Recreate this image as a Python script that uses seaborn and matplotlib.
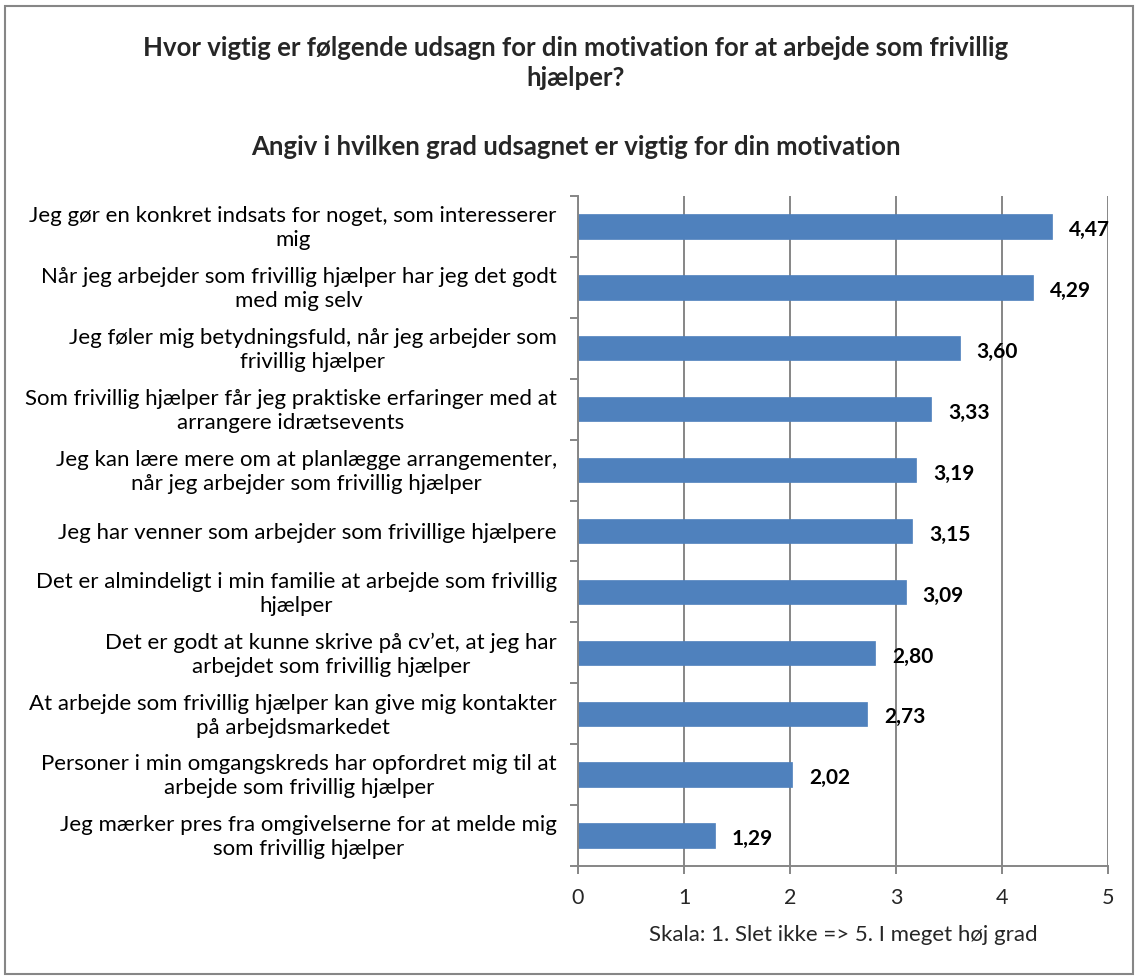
import matplotlib
matplotlib.use("Agg")
import matplotlib.pyplot as plt
import seaborn as sns
import pandas as pd
from matplotlib.patches import Rectangle

categories = [
    "Jeg gør en konkret indsats for noget, som interesserer\nmig",
    "Når jeg arbejder som frivillig hjælper har jeg det godt\nmed mig selv",
    "Jeg føler mig betydningsfuld, når jeg arbejder som\nfrivillig hjælper",
    "Som frivillig hjælper får jeg praktiske erfaringer med at\narrangere idrætsevents",
    "Jeg kan lære mere om at planlægge arrangementer,\nnår jeg arbejder som frivillig hjælper",
    "Jeg har venner som arbejder som frivillige hjælpere",
    "Det er almindeligt i min familie at arbejde som frivillig\nhjælper",
    "Det er godt at kunne skrive på cv’et, at jeg har\narbejdet som frivillig hjælper",
    "At arbejde som frivillig hjælper kan give mig kontakter\npå arbejdsmarkedet",
    "Personer i min omgangskreds har opfordret mig til at\narbejde som frivillig hjælper",
    "Jeg mærker pres fra omgivelserne for at melde mig\nsom frivillig hjælper",
]
values = [4.47, 4.29, 3.60, 3.33, 3.19, 3.15, 3.09, 2.80, 2.73, 2.02, 1.29]
xticks = [0, 1, 2, 3, 4, 5]

title1 = "Hvor vigtig er følgende udsagn for din motivation for at arbejde som frivillig\nhjælper?"
title2 = "Angiv i hvilken grad udsagnet er vigtig for din motivation"
xlabel = "Skala: 1. Slet ikke => 5. I meget høj grad"

sns.set_theme(style="white")
plt.rcParams["font.family"] = ["Lato", "DejaVu Sans"]

df = pd.DataFrame({"cat": categories, "val": values})

fig = plt.figure(figsize=(11.36, 9.76), dpi=100)
ax = fig.add_axes([578 / 1136, 1 - 866 / 976, (1108 - 578) / 1136, (866 - 196) / 976])

sns.barplot(data=df, x="val", y="cat", orient="h", color="#4F81BD",
            width=0.4, saturation=1, ax=ax, edgecolor="#4F81BD", linewidth=0.5)

ax.set_xlim(0, 5)
ax.set_ylim(len(categories) - 0.5, -0.5)
ax.set_xticks(xticks)
ax.set_xticklabels([str(t) for t in xticks], fontsize=15.5)
ax.xaxis.grid(True, color="#868686", linewidth=1.4)
ax.set_axisbelow(True)

for s in ["top", "right"]:
    ax.spines[s].set_visible(False)
for s in ["left", "bottom"]:
    ax.spines[s].set_color("#868686")
    ax.spines[s].set_linewidth(1.4)

# category boundary ticks
ax.set_yticks([i - 0.5 for i in range(len(categories) + 1)], minor=False)
ax.set_yticklabels([])
ax.tick_params(axis="y", which="major", direction="out", length=6, width=1.4, color="#868686", left=True)
ax.tick_params(axis="x", which="major", direction="out", length=6, width=1.4, color="#868686", bottom=True, pad=10)

for i, (c, v) in enumerate(zip(categories, values)):
    ax.text(-0.2, i + 0.03, c, ha="right", va="center", multialignment="center",
            fontsize=16, color="black", linespacing=1.25, clip_on=False)
    ax.text(v + 0.16, i + 0.06, f"{v:.2f}".replace(".", ","), ha="left", va="center",
            fontsize=15, fontweight="bold", color="black")

ax.set_ylabel("")
ax.set_xlabel(xlabel, fontsize=16, labelpad=12)

fig.text(576 / 1136, 1 - 63 / 976, title1, ha="center", va="center", fontsize=18.5,
         fontweight="bold", multialignment="center", linespacing=1.25)
fig.text(576 / 1136, 1 - 147 / 976, title2, ha="center", va="center", fontsize=18.5,
         fontweight="bold")

fig.patches.append(Rectangle((5 / 1136, 2 / 976), 1128 / 1136, 968 / 976, transform=fig.transFigure,
                             fill=False, edgecolor="#868686", linewidth=1.5))

fig.savefig("out.png", dpi=100, facecolor="white")
